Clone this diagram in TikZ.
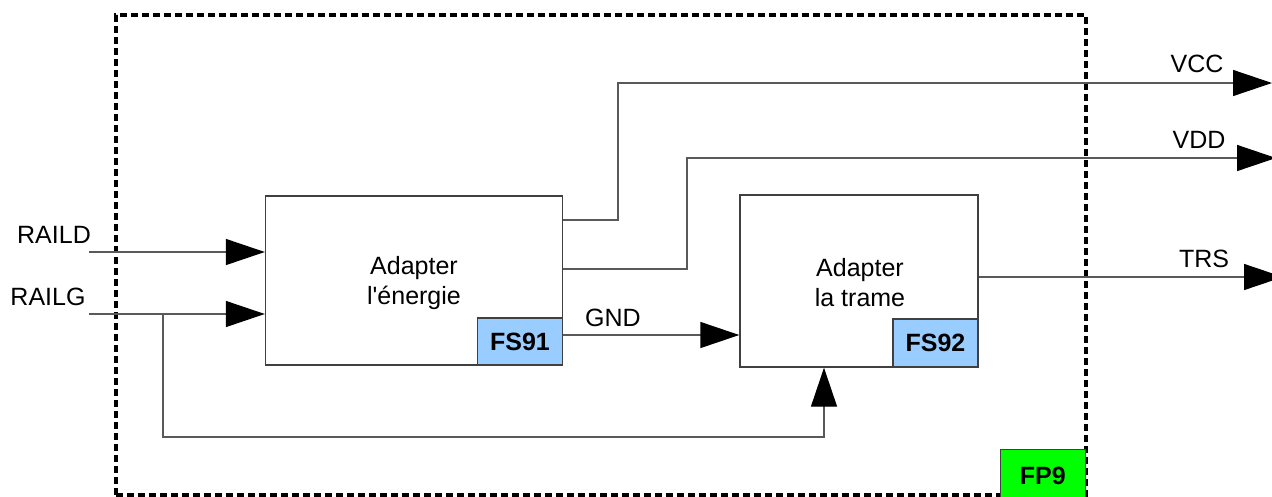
\documentclass[tikz,border=0pt]{standalone}
\usepackage{fontspec}
\setmainfont{Liberation Sans}[Ligatures=TeXOff]
\usetikzlibrary{arrows.meta}
\definecolor{tagblue}{HTML}{99CCFF}
\definecolor{taggreen}{HTML}{00FF00}
\begin{document}
\begin{tikzpicture}[x=1pt,y=-1pt,
  wire/.style={draw=black!65, line width=1.4pt},
  flow/.style={wire, -{Triangle[length=39pt,width=26pt,black]}},
  block/.style={draw=black!75, line width=1.4pt, fill=white, inner sep=0pt},
  tag/.style={draw=black!75, line width=1.4pt, fill=#1, inner sep=0pt,
    font=\fontsize{25}{28}\selectfont\bfseries},
  lbl/.style={font=\fontsize{25}{30}\selectfont, inner sep=0pt},
  frame/.style={draw=black, line width=4pt, dash pattern=on 7pt off 4pt, inner sep=0pt},
]
\useasboundingbox (0,0) rectangle (1272,496);
\clip (0,0) rectangle (1272,496);

% functional boundary FP9
\node[frame, minimum width=970pt, minimum height=480pt] (fp) at (601,255) {};

% function blocks
\node[block, minimum width=297pt, minimum height=169pt] (b1) at (414,280.5) {};
\node[lbl, align=center] (t1) at (414,283) {Adapter\\l'énergie};
\node[tag=tagblue, minimum width=85pt, minimum height=47pt, anchor=south east] (fs91) at (b1.south east) {FS91};

\node[block, minimum width=238pt, minimum height=172pt] (b2) at (859,281) {};
\node[lbl, align=center] (t2) at (860,283) {Adapter\\la trame};
\node[tag=tagblue, minimum width=85pt, minimum height=48pt, anchor=south east] (fs92) at (b2.south east) {FS92};

\node[tag=taggreen, minimum width=85pt, minimum height=52pt, anchor=north east] (fp9) at (1086,449) {FP9};

% inputs
\coordinate (raild) at (89,252);
\coordinate (railg) at (89,314);
\coordinate (split) at (163,314);
\coordinate (loop) at (824,437);
\draw[flow] (raild) -- (raild -| b1.west);
\draw[flow] (railg) -- (railg -| b1.west);
\draw[flow] (split) |- (loop) -- (loop |- b2.south);
\node[lbl] (lraild) at (54,235) {RAILD};
\node[lbl] (lrailg) at (48,297) {RAILG};

% GND between blocks
\coordinate (gnd) at (0,335);
\draw[flow] (gnd -| b1.east) -- (gnd -| b2.west);
\node[lbl] (lgnd) at (613,318) {GND};

% outputs
\coordinate (vccout) at (1272,83);
\coordinate (vddout) at (1276,158);
\coordinate (trsout) at (1283,277);
\draw[flow] (b1.east |- 0,220) -| (618,83) -- (vccout);
\draw[flow] (b1.east |- 0,269) -| (687,158) -- (vddout);
\draw[flow] (trsout -| b2.east) -- (trsout);
\node[lbl] (lvcc) at (1197,64) {VCC};
\node[lbl] (lvdd) at (1199,140) {VDD};
\node[lbl] (ltrs) at (1204,259) {TRS};
\end{tikzpicture}
\end{document}
